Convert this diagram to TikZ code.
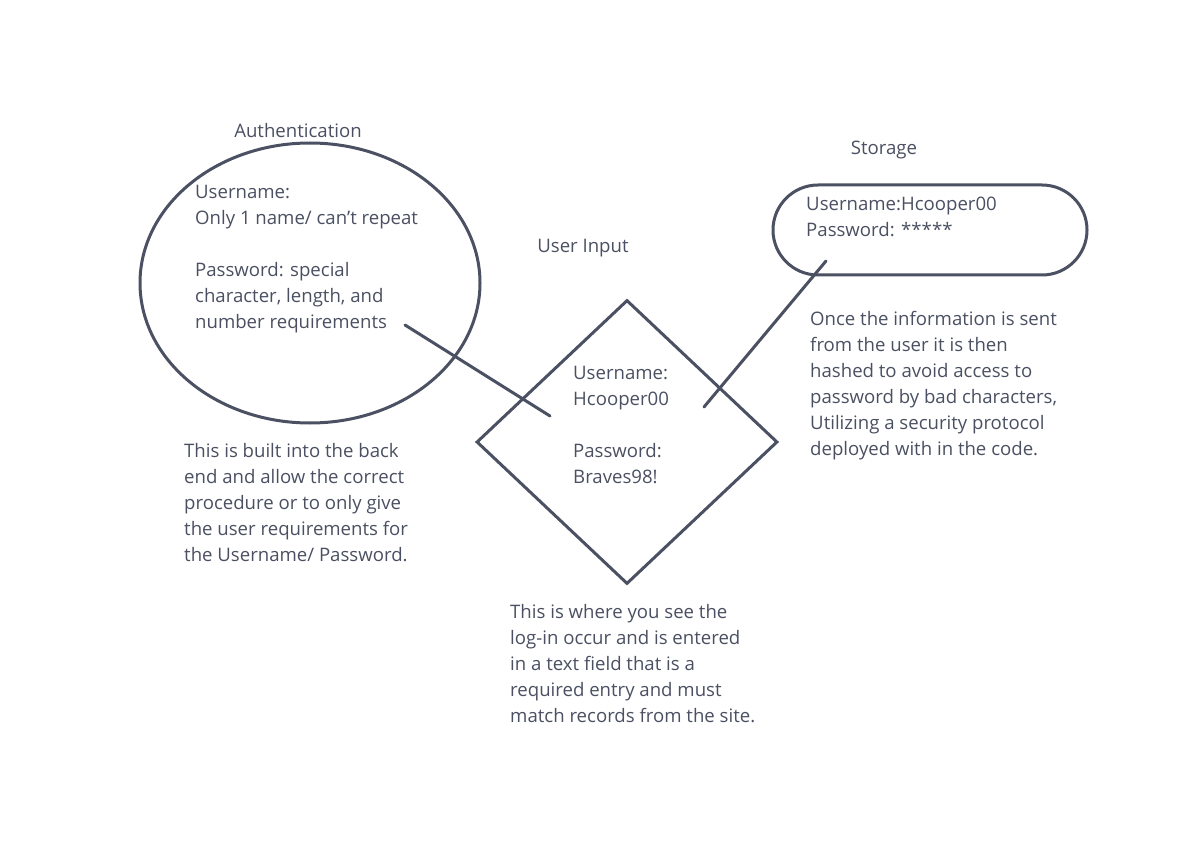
\documentclass[tikz,border=0pt]{standalone}
\usepackage{fontspec}
\setmainfont{Open Sans}
\usetikzlibrary{shapes.geometric,shapes.misc}
\definecolor{inkline}{HTML}{4B5162}
\definecolor{inktext}{HTML}{4A5062}

\begin{document}
\begin{tikzpicture}[x=1pt,y=-1pt,
  shapeline/.style={draw=inkline,line width=3pt,inner sep=0pt},
  txt/.style={text=inktext,inner sep=0pt,align=left,anchor=base west,font=\fontsize{18.6}{26}\selectfont},
  title/.style={text=inktext,inner sep=0pt,anchor=base,font=\fontsize{18.6}{26}\selectfont}]
\useasboundingbox (0,0) rectangle (1204,842);

% shapes
\node[shapeline,ellipse,minimum width=340,minimum height=280] (auth) at (310,283) {};
\node[shapeline,diamond,minimum width=301,minimum height=284] (input) at (627,442) {};
\node[shapeline,rounded rectangle,minimum width=314,minimum height=90] (store) at (930,230) {};

% titles
\node[title] (authT) at (298,138) {Authentication};
\node[title] (inputT) at (583,253) {User Input};
\node[title] (storeT) at (884,155) {Storage};

% texts inside (placed by the baseline of their last line)
\node[txt] (authIn) at (195,328) {Username:\\Only 1 name/ can't repeat\\[26pt]Password: special\\character, length, and\\number requirements};
\node[txt] (inputIn) at (573,483) {Username:\\Hcooper00\\[26pt]Password:\\Braves98!};
\node[txt] (storeIn) at (806,237) {Username:Hcooper00\\Password: *****};

% notes
\node[txt] (authNote) at (184,561) {This is built into the back\\end and allow the correct\\procedure or to only give\\the user requirements for\\the Username/ Password.};
\node[txt] (inputNote) at (510,722) {This is where you see the\\log-in occur and is entered\\in a text field that is a\\required entry and must\\match records from the site.};
\node[txt] (storeNote) at (810,455) {Once the information is sent\\from the user it is then\\hashed to avoid access to\\password by bad characters,\\Utilizing a security protocol\\deployed with in the code.};

% connectors
\coordinate (authEnd) at (405,325);
\coordinate (inputL) at (550,416);
\coordinate (inputR) at (704,407);
\coordinate (storeEnd) at (826,261);
\draw[inkline,line width=3pt,line cap=round] (authEnd)--(inputL);
\draw[inkline,line width=3pt,line cap=round] (inputR)--(storeEnd);
\end{tikzpicture}
\end{document}
